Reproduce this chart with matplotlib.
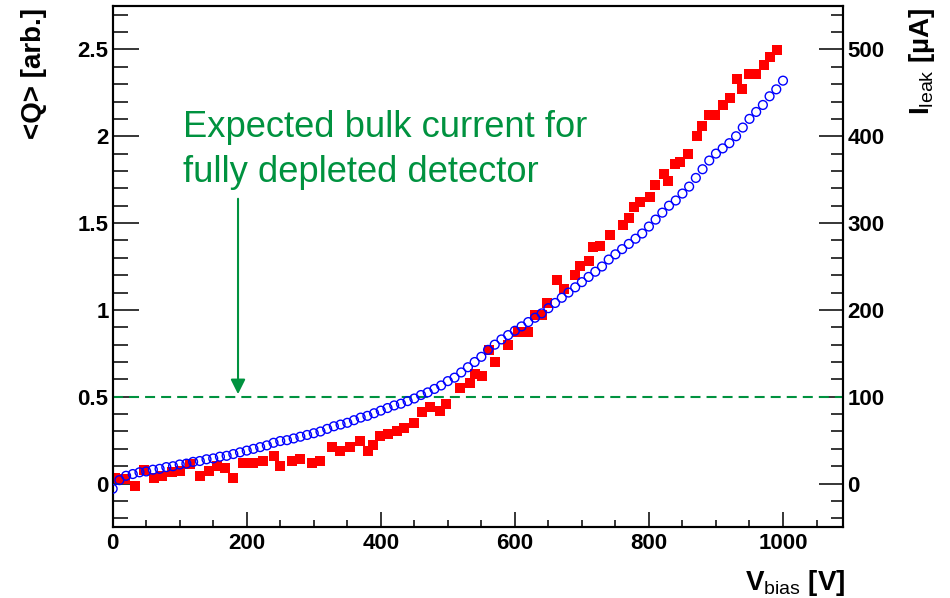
import matplotlib
matplotlib.use("Agg")
import matplotlib.pyplot as plt
from matplotlib.ticker import MultipleLocator, FuncFormatter

plt.rcParams['font.family'] = ['Liberation Sans', 'DejaVu Sans']
plt.rcParams['mathtext.fontset'] = 'custom'
plt.rcParams['mathtext.rm'] = 'Liberation Sans'
plt.rcParams['mathtext.bf'] = 'Liberation Sans:bold'

# charge signal <Q> (red squares, left axis)
v_charge = [3, 18, 33, 46, 61, 73, 88, 100, 115, 130, 143, 155, 168, 180,
            195, 210, 225, 240, 250, 267, 280, 297, 309, 327, 339, 354, 369,
            381, 389, 399, 411, 424, 434, 449, 461, 474, 488, 498, 518, 533,
            541, 551, 561, 571, 590, 605, 620, 630, 640, 648, 663, 673, 690,
            697, 710, 717, 727, 742, 762, 770, 777, 787, 802, 809, 822, 829,
            839, 847, 859, 872, 879, 889, 899, 911, 921, 931, 939, 950, 960,
            971, 981, 991]
q_charge = [0.035, 0.025, -0.015, 0.08, 0.035, 0.045, 0.065, 0.07, 0.11,
            0.045, 0.07, 0.10, 0.09, 0.035, 0.12, 0.12, 0.13, 0.16, 0.10,
            0.13, 0.14, 0.12, 0.13, 0.21, 0.19, 0.21, 0.245, 0.19, 0.22,
            0.275, 0.285, 0.30, 0.32, 0.35, 0.41, 0.44, 0.42, 0.46, 0.55,
            0.58, 0.63, 0.62, 0.77, 0.70, 0.80, 0.87, 0.87, 0.97, 0.97, 1.04,
            1.17, 1.12, 1.20, 1.25, 1.28, 1.36, 1.37, 1.43, 1.49, 1.53, 1.59,
            1.62, 1.65, 1.72, 1.78, 1.74, 1.84, 1.85, 1.90, 2.00, 2.06, 2.12,
            2.12, 2.18, 2.22, 2.33, 2.27, 2.36, 2.36, 2.41, 2.457, 2.495]

# leakage current (blue open circles, right axis, uA)
v_leak = list(range(0, 1001, 10))
i_leak = [-6, 4, 9, 11, 13, 14, 16, 17, 19, 20, 22, 23, 25, 26, 28, 29, 31,
          32, 34, 36, 38, 40, 42, 44, 47, 49, 50, 52, 54, 56, 58, 60, 63, 66,
          68, 70, 73, 76, 78, 81, 84, 87, 90, 92, 95, 98, 102, 105, 109, 113,
          118, 122, 128, 134, 140, 146, 154, 160, 166, 171, 176, 181, 186,
          191, 196, 202, 208, 214, 220, 226, 232, 238, 244, 250, 258, 264,
          270, 276, 282, 288, 296, 304, 312, 320, 326, 334, 342, 352, 362,
          372, 380, 386, 392, 400, 410, 420, 428, 436, 446, 454, 464]

expected_bulk = 100  # uA
arrow_v = 187
note_lines = ["Expected bulk current for", "fully depleted detector"]

green = '#00923F'

fig = plt.figure(figsize=(9.5, 5.98), dpi=100)
ax = fig.add_axes([0.1186, 0.1187, 0.7691, 0.8713])
ax2 = ax.twinx()

ax.set_xlim(0, 1090)
ax.set_ylim(-0.25, 2.75)
ax2.set_ylim(-50, 550)

ax.scatter(v_charge, q_charge, marker='s', s=55, color='red',
           linewidths=0, zorder=3)
ax2.scatter(v_leak, i_leak, marker='o', s=40, facecolors='none',
            edgecolors='blue', linewidths=1.0, zorder=4)

ax2.axhline(expected_bulk, color=green, lw=1.5, ls=(0, (4.8, 2.9)),
            zorder=2)
ax2.annotate('', xy=(arrow_v, expected_bulk + 3), xytext=(arrow_v, 328),
             arrowprops=dict(arrowstyle='-|>', color=green, lw=1.5,
                             mutation_scale=22, shrinkA=0, shrinkB=0))
ax2.text(105, 399, note_lines[0], color=green, fontsize=26.2,
         va='baseline', ha='left')
ax2.text(105, 347, note_lines[1], color=green, fontsize=26.2,
         va='baseline', ha='left')

fmt = FuncFormatter(lambda v, p: '%g' % v)
ax.xaxis.set_major_locator(MultipleLocator(200))
ax.xaxis.set_minor_locator(MultipleLocator(50))
ax.yaxis.set_major_locator(MultipleLocator(0.5))
ax.yaxis.set_minor_locator(MultipleLocator(0.1))
ax.yaxis.set_major_formatter(fmt)
ax2.yaxis.set_major_locator(MultipleLocator(100))
ax2.yaxis.set_minor_locator(MultipleLocator(20))
ax2.yaxis.set_major_formatter(fmt)

ax.tick_params(axis='x', which='both', direction='in', top=False,
               labelsize=16, pad=4, width=1.1)
ax.tick_params(axis='x', which='major', length=11)
ax.tick_params(axis='x', which='minor', length=5)
ax.tick_params(axis='y', which='both', direction='in', right=False,
               labelsize=16, pad=3, width=1.1)
ax.tick_params(axis='y', which='major', length=19)
ax.tick_params(axis='y', which='minor', length=11)
ax2.tick_params(axis='y', which='both', direction='in', left=False,
                labelsize=16, pad=3, width=1.1)
ax2.tick_params(axis='y', which='major', length=17)
ax2.tick_params(axis='y', which='minor', length=8.5)
for a in (ax, ax2):
    for lab in a.get_xticklabels() + a.get_yticklabels():
        lab.set_fontweight('bold')
    for sp in a.spines.values():
        sp.set_linewidth(1.5)

fig.text(34 / 950, 1 - 8 / 598, '<Q> [arb.]', rotation=90, ha='center',
         va='top', fontsize=20, fontweight='bold')
fig.text(922 / 950, 1 - 8 / 598, 'I$_{\\rm leak}$ [\u00b5A]', rotation=90,
         ha='center', va='top', fontsize=20, fontweight='bold')
fig.text(845 / 950, 1 - 590 / 598, r'$\mathbf{V}_{\rm bias}$ [V]',
         ha='right', va='baseline', fontsize=20, fontweight='bold')

fig.savefig('out.png', dpi=100)
